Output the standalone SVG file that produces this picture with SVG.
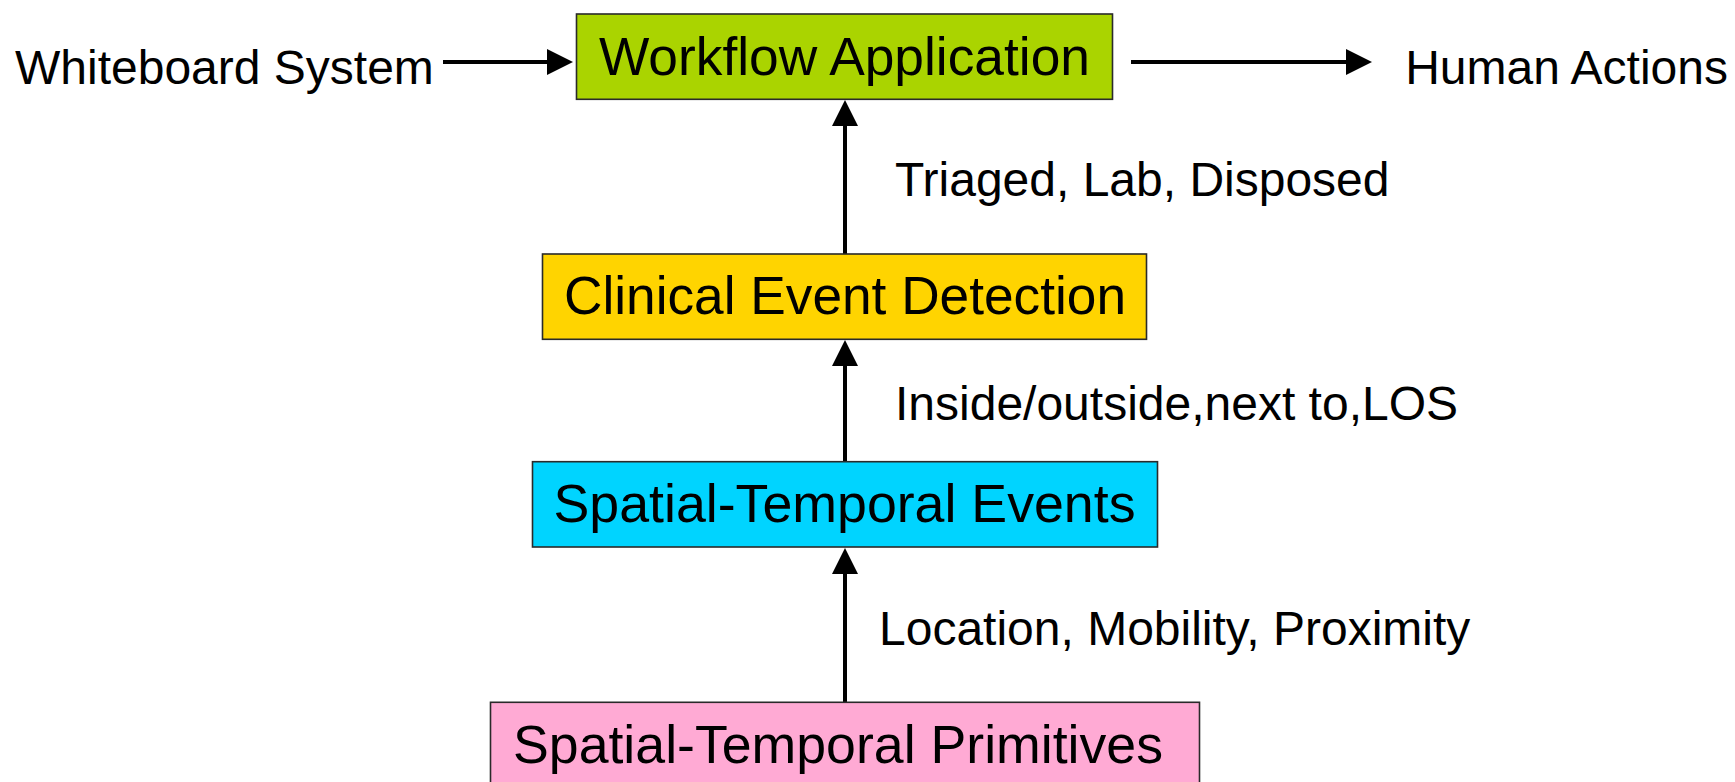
<svg xmlns="http://www.w3.org/2000/svg" width="1735" height="782" viewBox="0 0 1735 782">
  <style>
    .box { stroke: #2a2a2a; stroke-width: 1.6; }
    .boxlabel { font-family: "Liberation Sans", Arial, sans-serif; font-size: 53.5px; fill: #000; text-anchor: middle; }
    .label { font-family: "Liberation Sans", Arial, sans-serif; font-size: 48px; fill: #000; }
    .edge { stroke: #000; stroke-width: 4; fill: none; }
  </style>
  <defs>
    <marker id="head" markerUnits="userSpaceOnUse" markerWidth="26" markerHeight="26" refX="0" refY="13" orient="auto" viewBox="0 0 26 26">
      <path d="M0,0 L26,13 L0,26 Z" fill="#000"/>
    </marker>
  </defs>
  <rect width="1735" height="782" fill="#fff"/>

  <!-- connectors -->
  <g id="connectors">
    <line class="edge" x1="443" y1="62" x2="547" y2="62" marker-end="url(#head)"/>
    <line class="edge" x1="1131" y1="62" x2="1346" y2="62" marker-end="url(#head)"/>
    <line class="edge" x1="845" y1="254" x2="845" y2="126" marker-end="url(#head)"/>
    <line class="edge" x1="845" y1="462" x2="845" y2="366" marker-end="url(#head)"/>
    <line class="edge" x1="845" y1="702" x2="845" y2="574" marker-end="url(#head)"/>
  </g>

  <!-- edge labels and external endpoints -->
  <g id="whiteboard-system">
    <text class="label" x="15" y="84">Whiteboard System</text>
  </g>
  <g id="human-actions">
    <text class="label" x="1728" y="84" text-anchor="end">Human Actions</text>
  </g>
  <g id="edge-labels">
    <text class="label" x="895" y="196">Triaged, Lab, Disposed</text>
    <text class="label" x="895" y="420">Inside/outside,next to,LOS</text>
    <text class="label" x="879" y="645">Location, Mobility, Proximity</text>
  </g>

  <!-- layer nodes -->
  <g id="workflow-application">
    <rect class="box" x="576.5" y="14" width="536" height="85.3" fill="#AAD400"/>
    <text class="boxlabel" x="844.5" y="75" textLength="491" lengthAdjust="spacingAndGlyphs">Workflow Application</text>
  </g>
  <g id="clinical-event-detection">
    <rect class="box" x="542.5" y="254" width="604" height="85.3" fill="#FFD400"/>
    <text class="boxlabel" x="845" y="314" textLength="562" lengthAdjust="spacingAndGlyphs">Clinical Event Detection</text>
  </g>
  <g id="spatial-temporal-events">
    <rect class="box" x="532.5" y="461.7" width="625" height="85.3" fill="#00D4FF"/>
    <text class="boxlabel" x="844.5" y="522" textLength="582" lengthAdjust="spacingAndGlyphs">Spatial-Temporal Events</text>
  </g>
  <g id="spatial-temporal-primitives">
    <rect class="box" x="490.5" y="702.3" width="709" height="86" fill="#FFAAD4"/>
    <text class="boxlabel" x="838" y="763" textLength="650" lengthAdjust="spacingAndGlyphs">Spatial-Temporal Primitives</text>
  </g>
</svg>
